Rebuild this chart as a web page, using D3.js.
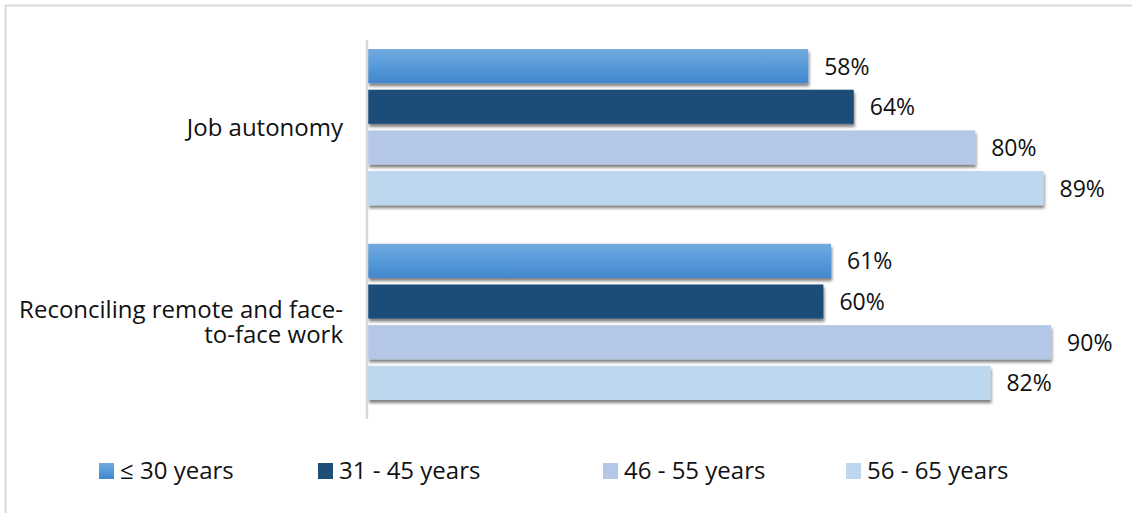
<!DOCTYPE html>
<html>
<head>
<meta charset="utf-8">
<script src="https://cdn.jsdelivr.net/npm/d3@7"></script>
<style>
  html, body { margin: 0; padding: 0; background: #fff; }
  svg { display: block; }
</style>
</head>
<body>
<svg id="chart" width="1132" height="513"></svg>
<script>
// Data
const categories = ['Job autonomy', 'Reconciling remote and face-to-face work'];
const categoryLines = [['Job autonomy'], ['Reconciling remote and face-', 'to-face work']];
const seriesNames = ['≤ 30 years', '31 - 45 years', '46 - 55 years', '56 - 65 years'];
const under30 = [58, 61];
const age31to45 = [64, 60];
const age46to55 = [80, 90];
const age56to65 = [89, 82];
const seriesValues = [under30, age31to45, age46to55, age56to65];

// Styles
const colors = ['url(#grad0)', '#1f4e79', '#b4c7e7', '#bdd7ee'];
const legendX = [99, 318, 603, 846];
const font = '"Open Sans", sans-serif';

const svg = d3.select('#chart');
const width = 1132, height = 513;
const axisX = 368;

// frame
svg.append('rect')
    .attr('x', 5.5).attr('y', 5.5)
    .attr('width', width + 10).attr('height', height + 10)
    .attr('fill', '#fff')
    .attr('stroke', '#d9d9d9')
    .attr('stroke-width', 2);

const defs = svg.append('defs');
const grad = defs.append('linearGradient')
    .attr('id', 'grad0').attr('x1', 0).attr('y1', 0).attr('x2', 0).attr('y2', 1);
grad.append('stop').attr('offset', '0%').attr('stop-color', '#72a9df');
grad.append('stop').attr('offset', '50%').attr('stop-color', '#569ad9');
grad.append('stop').attr('offset', '100%').attr('stop-color', '#4387cd');

const shadow = defs.append('filter').attr('id', 'shadow')
    .attr('x', '-5%').attr('y', '-20%').attr('width', '110%').attr('height', '160%');
shadow.append('feDropShadow')
    .attr('dx', 1).attr('dy', 3).attr('stdDeviation', 1.6)
    .attr('flood-color', '#000').attr('flood-opacity', 0.5);

// Scales
const x = d3.scaleLinear().domain([0, 100]).range([axisX, 1127]);
const y0 = d3.scaleBand().domain(categories).range([39, 410])
    .paddingInner(0.198).paddingOuter(0.0514);
const y1 = d3.scaleBand().domain(d3.range(seriesNames.length))
    .range([0, y0.bandwidth()]).paddingInner(0.16);

// Bars
const rows = [];
categories.forEach((c, ci) => {
    seriesValues.forEach((vals, si) => {
        rows.push({cat: c, ci: ci, s: si, v: vals[ci]});
    });
});

svg.append('g').selectAll('rect')
    .data(rows)
    .enter().append('rect')
    .attr('x', x(0))
    .attr('y', d => y0(d.cat) + y1(d.s))
    .attr('width', d => x(d.v) - x(0))
    .attr('height', y1.bandwidth())
    .attr('fill', d => colors[d.s])
    .attr('filter', 'url(#shadow)');

// Axis line
svg.append('line')
    .attr('x1', axisX - 1).attr('x2', axisX - 1)
    .attr('y1', 40).attr('y2', 419)
    .attr('stroke', '#d9d9d9').attr('stroke-width', 2.5);

// Value labels
svg.append('g').selectAll('text')
    .data(rows)
    .enter().append('text')
    .attr('x', d => x(d.v) + 16)
    .attr('y', d => y0(d.cat) + y1(d.s) + y1.bandwidth() / 2 + 8.5)
    .attr('font-family', font)
    .attr('font-size', 23)
    .attr('fill', '#111')
    .text(d => d.v + '%');

// Category labels (one text element per category, lines as tspans)
const lh = 25.5;
svg.append('g').selectAll('text')
    .data(categories)
    .enter().append('text')
    .attr('text-anchor', 'end')
    .attr('font-family', font)
    .attr('font-size', 24)
    .attr('fill', '#111')
    .each(function (c, ci) {
        const lines = categoryLines[ci];
        const mid = y0(c) + y0.bandwidth() / 2;
        lines.forEach((ln, li) => {
            d3.select(this).append('tspan')
                .attr('x', 343)
                .attr('y', mid + 8.5 + (li - (lines.length - 1) / 2) * lh)
                .text(ln);
        });
    });

// Legend
const leg = svg.append('g').selectAll('g')
    .data(seriesNames)
    .enter().append('g')
    .attr('transform', (d, i) => `translate(${legendX[i]},463)`);
leg.append('rect')
    .attr('width', 15).attr('height', 16)
    .attr('fill', (d, i) => colors[i]);
leg.append('text')
    .attr('x', 21).attr('y', 16)
    .attr('font-family', font)
    .attr('font-size', 24)
    .attr('fill', '#111')
    .text(d => d);
</script>
</body>
</html>
